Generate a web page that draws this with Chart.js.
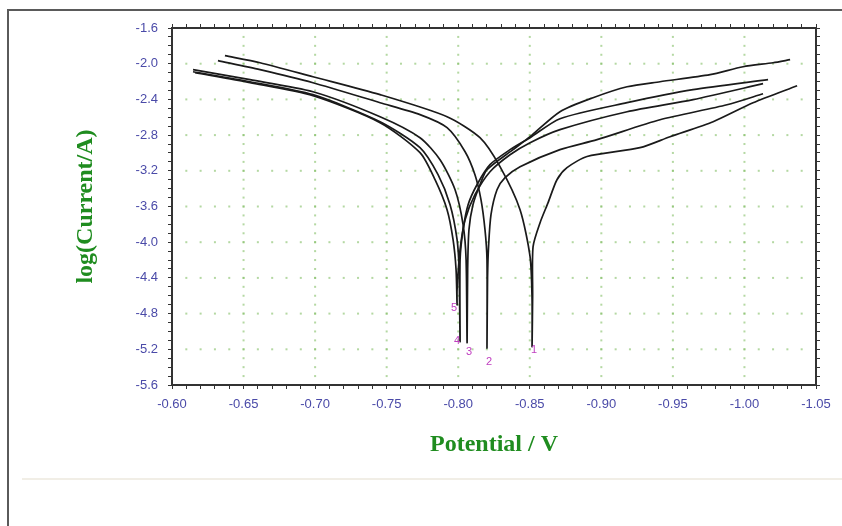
<!DOCTYPE html>
<html>
<head>
<meta charset="utf-8">
<script src="https://cdn.jsdelivr.net/npm/chart.js@4.4.1/dist/chart.umd.min.js"></script>
<style>
  html, body { margin: 0; padding: 0; background: #fff; }
  #wrap { position: relative; width: 842px; height: 526px; }
  #frame {
    position: absolute; left: 7px; top: 9px; right: 0; bottom: 0;
    border-top: 2px solid #5a5a5a; border-left: 2px solid #5a5a5a;
    pointer-events: none;
  }
  #sep {
    position: absolute; left: 22px; right: 0; top: 478px; height: 2px;
    background: #f1eee6; pointer-events: none;
  }
</style>
</head>
<body>
<div id="wrap">
  <canvas id="tafel-chart"></canvas>
  <div id="frame"></div>
  <div id="sep"></div>
</div>
<script>
// Tafel curves, [potential (V), log(current/A)]
const curve1 = [
    [-0.6370, -1.910], [-0.6615, -1.989], [-0.6985, -2.146], [-0.7454, -2.347],
    [-0.7922, -2.594], [-0.8152, -2.829], [-0.8292, -3.154], [-0.8432, -3.636],
    [-0.8502, -4.162], [-0.8516, -4.644], [-0.8516, -5.171], [-0.8520, -4.600],
    [-0.8523, -4.050], [-0.8572, -3.781], [-0.8628, -3.557], [-0.8690, -3.300],
    [-0.8760, -3.165], [-0.8900, -3.040], [-0.9270, -2.941], [-0.9480, -2.818],
    [-0.9781, -2.650], [-1.0060, -2.438], [-1.0368, -2.247]
];
const curve2 = [
    [-0.6321, -1.966], [-0.6615, -2.067], [-0.6985, -2.213], [-0.7454, -2.437],
    [-0.7733, -2.571], [-0.7922, -2.717], [-0.8048, -2.986], [-0.8117, -3.244],
    [-0.8159, -3.524], [-0.8187, -3.860], [-0.8201, -4.196], [-0.8201, -5.186],
    [-0.8205, -4.400], [-0.8212, -4.050], [-0.8229, -3.692], [-0.8271, -3.412],
    [-0.8327, -3.277], [-0.8432, -3.154], [-0.8711, -2.963], [-0.8970, -2.851],
    [-0.9410, -2.628], [-0.9878, -2.460], [-1.0130, -2.337]
];
const curve3 = [
    [-0.6147, -2.067], [-0.6545, -2.179], [-0.6985, -2.314], [-0.7454, -2.594],
    [-0.7733, -2.829], [-0.7873, -3.076], [-0.7978, -3.412], [-0.8034, -3.804],
    [-0.8055, -4.196], [-0.8062, -5.125], [-0.8066, -4.300], [-0.8075, -3.860],
    [-0.8103, -3.580], [-0.8152, -3.356], [-0.8201, -3.188], [-0.8383, -2.963],
    [-0.8502, -2.818], [-0.8711, -2.538], [-0.8942, -2.381], [-0.9180, -2.258],
    [-0.9410, -2.202], [-0.9760, -2.123], [-0.9990, -2.034], [-1.0200, -1.989],
    [-1.0319, -1.955]
];
const curve4 = [
    [-0.6147, -2.090], [-0.6545, -2.202], [-0.6985, -2.347], [-0.7454, -2.650],
    [-0.7733, -2.941], [-0.7859, -3.244], [-0.7943, -3.580], [-0.7992, -3.972],
    [-0.8006, -4.308], [-0.8013, -5.114], [-0.8013, -4.196], [-0.8034, -3.860],
    [-0.8069, -3.580], [-0.8131, -3.356], [-0.8222, -3.131], [-0.8362, -2.963],
    [-0.8502, -2.829], [-0.8711, -2.616], [-0.9180, -2.437], [-0.9641, -2.291],
    [-1.0165, -2.179]
];
const curve5 = [
    [-0.6161, -2.101], [-0.6545, -2.213], [-0.6985, -2.359], [-0.7454, -2.661],
    [-0.7733, -2.997], [-0.7838, -3.300], [-0.7922, -3.636], [-0.7964, -3.972],
    [-0.7985, -4.308], [-0.7992, -4.700], [-0.7992, -4.532], [-0.8013, -4.084],
    [-0.8048, -3.748], [-0.8117, -3.468], [-0.8222, -3.210], [-0.8362, -3.020],
    [-0.8502, -2.885], [-0.8711, -2.739], [-0.9180, -2.538], [-0.9641, -2.403],
    [-1.0130, -2.224]
];
const curves = [curve1, curve2, curve3, curve4, curve5];

// curve number labels at the bottom of each spike
const curveLabels = ['1', '2', '3', '4', '5'];
const labelPotential = [-0.8530, -0.8215, -0.8075, -0.7992, -0.7971];
const labelLogI = [-5.203, -5.337, -5.225, -5.102, -4.733];

// axis ranges and ticks
const xMin = -1.05, xMax = -0.60, xMinorStep = 0.01, xMajorEvery = 5;
const yMin = -5.6, yMax = -1.6, yMinorStep = 0.1, yMajorEvery = 4;

const isMajorX = v => Math.abs(Math.round(v / xMinorStep)) % xMajorEvery === 0;
const isMajorY = v => Math.abs(Math.round(v / yMinorStep)) % yMajorEvery === 0;

// dotted grid, drawn on the major lines at each minor step
const dotGrid = {
    id: 'dotGrid',
    beforeDatasetsDraw(chart) {
        const { ctx, scales: { x, y } } = chart;
        ctx.save();
        ctx.fillStyle = 'rgba(130, 190, 100, 0.6)';
        x.ticks.forEach(xt => {
            if (!isMajorX(xt.value) || xt.value === xMin || xt.value === xMax) return;
            const px = x.getPixelForValue(xt.value);
            y.ticks.forEach(yt => {
                if (yt.value === yMin || yt.value === yMax) return;
                ctx.fillRect(px - 1, y.getPixelForValue(yt.value) - 1, 2, 2);
            });
        });
        y.ticks.forEach(yt => {
            if (!isMajorY(yt.value) || yt.value === yMin || yt.value === yMax) return;
            const py = y.getPixelForValue(yt.value);
            x.ticks.forEach(xt => {
                if (xt.value === xMin || xt.value === xMax) return;
                ctx.fillRect(x.getPixelForValue(xt.value) - 1, py - 1, 2, 2);
            });
        });
        ctx.restore();
    }
};

// small magenta curve numbers
const curveNumbers = {
    id: 'curveNumbers',
    afterDatasetsDraw(chart) {
        const { ctx, scales: { x, y } } = chart;
        ctx.save();
        ctx.fillStyle = '#c040c0';
        ctx.font = '11px "Liberation Sans", Arial, sans-serif';
        ctx.textAlign = 'center';
        ctx.textBaseline = 'middle';
        curveLabels.forEach((t, i) => {
            ctx.fillText(t, x.getPixelForValue(labelPotential[i]), y.getPixelForValue(labelLogI[i]));
        });
        ctx.restore();
    }
};

const tickFont = { family: '"Liberation Sans", Arial, sans-serif', size: 13 };
const titleFont = { family: '"Liberation Serif", "Times New Roman", serif', size: 24, weight: 'bold', lineHeight: 1.2 };
const axisBorder = { display: true, color: '#333', width: 2 };
const tickGrid = { drawOnChartArea: false, drawTicks: true, tickLength: 4, tickColor: '#333', tickWidth: 1 };

new Chart(document.getElementById('tafel-chart'), {
    type: 'scatter',
    data: {
        datasets: curves.map((c, i) => ({
            label: curveLabels[i],
            data: c.map(p => ({ x: p[0], y: p[1] })),
            showLine: true,
            borderColor: '#1a1a1a',
            borderWidth: 1.7,
            pointRadius: 0,
            tension: 0.25,
            fill: false
        }))
    },
    options: {
        responsive: true,
        maintainAspectRatio: false,
        animation: false,
        devicePixelRatio: 1,
        layout: { padding: 0 },
        plugins: {
            legend: { display: false },
            tooltip: { enabled: false }
        },
        scales: {
            x: {
                type: 'linear',
                position: 'bottom',
                min: xMin,
                max: xMax,
                reverse: true,
                border: axisBorder,
                grid: tickGrid,
                ticks: {
                    stepSize: xMinorStep,
                    maxTicksLimit: 100,
                    autoSkip: false,
                    maxRotation: 0,
                    minRotation: 0,
                    padding: 8,
                    color: '#4a4aa8',
                    font: tickFont,
                    callback: v => isMajorX(v) ? v.toFixed(2) : ''
                },
                title: {
                    display: true,
                    text: 'Potential / V',
                    color: '#1f8c1f',
                    font: titleFont,
                    padding: { top: 0, bottom: 67 }
                },
                afterFit: s => { s.height = 141; }
            },
            x2: {
                type: 'linear',
                position: 'top',
                min: xMin,
                max: xMax,
                reverse: true,
                border: axisBorder,
                grid: tickGrid,
                ticks: { display: false, stepSize: xMinorStep, maxTicksLimit: 100, autoSkip: false },
                afterFit: s => { s.height = 28; }
            },
            y: {
                type: 'linear',
                position: 'left',
                min: yMin,
                max: yMax,
                border: axisBorder,
                grid: tickGrid,
                ticks: {
                    stepSize: yMinorStep,
                    maxTicksLimit: 100,
                    autoSkip: false,
                    padding: 10,
                    color: '#4a4aa8',
                    font: tickFont,
                    callback: v => isMajorY(v) ? v.toFixed(1) : ''
                },
                title: {
                    display: true,
                    text: 'log(Current/A)',
                    color: '#1f8c1f',
                    font: titleFont,
                    padding: { top: 71, bottom: 0 }
                },
                afterFit: s => { s.width = 172; }
            },
            y2: {
                type: 'linear',
                position: 'right',
                min: yMin,
                max: yMax,
                border: axisBorder,
                grid: tickGrid,
                ticks: { display: false, stepSize: yMinorStep, maxTicksLimit: 100, autoSkip: false },
                afterFit: s => { s.width = 26; }
            }
        }
    },
    plugins: [dotGrid, curveNumbers]
});
</script>
</body>
</html>
